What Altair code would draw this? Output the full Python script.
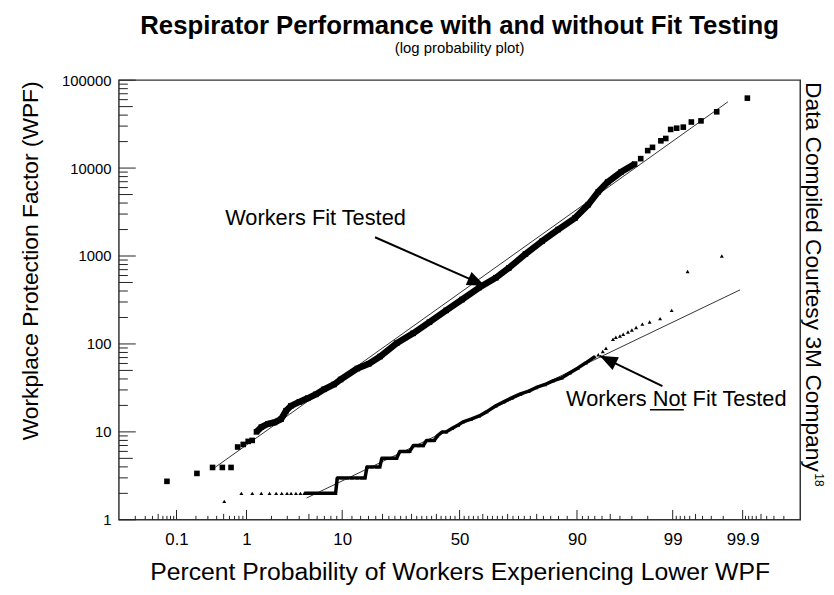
import altair as alt
import pandas as pd
from statistics import NormalDist

FONT = "Liberation Sans"
_nd = NormalDist()


def probit(p):
    return _nd.inv_cdf(p / 100.0)


# ---------------- data ----------------
# Workers fit tested (squares): percent probability, WPF
fit_pct = [0.07, 0.207, 0.35, 0.48, 0.63, 0.77, 0.91, 1.05, 1.18, 1.33,
           1.52, 1.82, 2.17, 2.57, 2.91, 3.29, 4.01, 4.86, 5.82, 6.96,
           8.52, 9.7, 13.2, 16.1, 19.3, 24.6, 30.6, 37.1, 44.2, 51.1,
           58.5, 65.4, 70.5, 76.4, 81.6, 85.9, 89.6, 92.0, 93.5, 94.7,
           96.1, 97.2, 97.6, 98.0, 98.24, 98.6, 98.78, 98.94, 99.11, 99.27,
           99.43, 99.58, 99.75, 99.916]
fit_wpf = [2.74, 3.37, 3.94, 3.94, 3.94, 6.73, 7.2, 7.8, 8.0, 10,
           11.3, 12.3, 12.8, 14.0, 17.4, 19.8, 21.9, 24.1, 26.7, 30.5,
           34.6, 39.4, 52.5, 59.6, 72, 102, 132, 177, 241, 320,
           438, 566, 733, 1053, 1474, 2000, 2700, 3840, 5370, 6930,
           9000, 11100, 12800, 15800, 17200, 20400, 21700, 27500, 28400, 29200,
           33400, 34400, 43600, 62400]

# Workers not fit tested (triangles)
nf_pct = [0.51,
          0.86, 1.18, 1.52, 1.9, 2.26, 2.61, 2.98, 3.29, 3.7, 4.11, 4.5, 4.85, 5.3, 5.82, 6.48, 7.19, 7.96, 8.79,
          9.09, 10, 11, 12, 13.2, 14.3, 15.1,
          15.6, 16.9, 18.3, 19.2,
          19.8, 21.3, 22.9, 24.6,
          25.7, 27.4, 29.3,
          30.7, 32.7, 34.6,
          35.9, 37.5, 39.1,
          40.4, 42.5, 44.2, 46.8, 49.4, 51.5, 55.0,
          58.5, 61.7, 65.4, 68.5, 71.7, 74.7, 77.5, 79.9, 82.5, 84.6, 86.8, 88.6, 90.2, 91.6, 93.0,
          93.5, 94.1, 94.5, 95.3, 95.6, 96.0, 96.3, 96.7, 97.0, 97.3, 97.7, 98.1, 98.57, 98.97, 99.36, 99.79]
nf_wpf = [1.62,
          2, 2, 2, 2, 2, 2, 2, 2, 2, 2, 2, 2, 2, 2, 2, 2, 2, 2,
          3, 3, 3, 3, 3, 3, 3,
          4, 4, 4, 4,
          5, 5, 5, 5,
          6, 6, 6,
          7, 7, 7,
          8, 8, 8,
          9, 10, 10, 11, 12, 13, 14,
          15.2, 17, 19.8, 22, 24.5, 27, 29.1, 32, 34.6, 38, 41.1, 47, 53.4, 61, 71.8,
          75.2, 82, 89.5, 113, 119, 123, 129, 137, 144, 154, 168, 178, 194, 241, 667, 1000]

# fitted lines (end points)
fitline_pct = [0.38, 99.83]
fitline_wpf = [3.95, 56600]
nofitline_pct = [4.74, 99.89]
nofitline_wpf = [1.77, 412]

# axis ticks
x_major = [0.1, 1, 10, 50, 90, 99, 99.9]
x_medium = [0.05, 0.5, 5, 20, 30, 40, 60, 70, 80, 95, 99.5, 99.95]
x_minor = [0.02, 0.03, 0.04, 0.06, 0.07, 0.08, 0.09,
           0.2, 0.3, 0.4, 0.6, 0.7, 0.8, 0.9,
           2, 3, 4, 6, 7, 8, 9,
           12, 14, 16, 18, 22, 24, 26, 28, 32, 34, 36, 38, 42, 44, 46, 48,
           52, 54, 56, 58, 62, 64, 66, 68, 72, 74, 76, 78, 82, 84, 86, 88,
           91, 92, 93, 94, 96, 97, 98,
           99.1, 99.2, 99.3, 99.4, 99.6, 99.7, 99.8,
           99.91, 99.92, 99.93, 99.94, 99.96, 99.97, 99.98]
y_major = [1, 10, 100, 1000, 10000, 100000]
y_medium = [5 * 10 ** k for k in range(5)]
y_minor = [m * 10 ** k for k in range(5) for m in (2, 3, 4, 6, 7, 8, 9)]

# annotations
ann_text = ["Workers Fit Tested", "Workers Not Fit Tested"]
ann_pct = [5.79, 99.1]
ann_wpf = [2673, 23.5]
arrow_pct = [17.8, 98.66]
arrow_wpf = [1634, 33.1]
arrow_tip_pct = [60.9, 93.7]
arrow_tip_wpf = [460, 73.3]
arrow_angle = [23.8, 206.2]
underline_pct = [98.11, 99.28]
underline_wpf = [17.8, 17.8]

title_text = "Respirator Performance with and without Fit Testing"
subtitle_text = "(log probability plot)"
x_title = "Percent Probability of Workers Experiencing Lower WPF"
y_title = "Workplace Protection Factor (WPF)"
side_text = "Data Compiled Courtesy 3M Company"
side_sup = "18"


# ---------------- frames ----------------
def pts(pcts, wpfs):
    return pd.DataFrame({"pct": pcts, "wpf": wpfs, "z": [probit(p) for p in pcts]})


fit_df = pts(fit_pct, fit_wpf)
nf_df = pts(nf_pct, nf_wpf)
fitline_df = pts(fitline_pct, fitline_wpf)
nofitline_df = pts(nofitline_pct, nofitline_wpf)

W, H = 688, 444
xs = alt.Scale(domain=[probit(0.01), probit(99.99)], nice=False, zero=False)
ys = alt.Scale(type="log", domain=[1, 100000], nice=False)

label_expr = " : ".join(
    f"abs(datum.value - ({probit(p):.6f})) < 0.001 ? '{p:g}'" for p in x_major
) + " : ''"

x_axis = alt.Axis(values=[probit(p) for p in x_major], labelExpr=label_expr,
                  ticks=False, domain=False, grid=False, labelOverlap=False,
                  labelFont=FONT, labelFontSize=17, labelColor="black", labelPadding=12,
                  title=x_title, titleFont=FONT, titleFontSize=25, titleFontWeight="normal",
                  titleColor="black", titleX=W / 2, titleY=52, titleAlign="center",
                  titleBaseline="middle")
y_axis = alt.Axis(values=y_major, format="d", ticks=False, domain=False, grid=False,
                  labelOverlap=False, labelFont=FONT, labelFontSize=15, labelColor="black",
                  labelPadding=8, title=y_title, titleFont=FONT, titleFontSize=23,
                  titleFontWeight="normal", titleColor="black", titleX=-89, titleY=182,
                  titleAngle=-90, titleAlign="center", titleBaseline="middle")

X = alt.X("z:Q", scale=xs, axis=x_axis)
Y = alt.Y("wpf:Q", scale=ys, axis=y_axis)
X2 = alt.X2("z2:Q")
Y2 = alt.Y2("wpf2:Q")

layers = []

# fitted lines
for df in (fitline_df, nofitline_df):
    layers.append(alt.Chart(df).mark_line(color="#333333", strokeWidth=1).encode(x=X, y=Y))

# dense bands of overlapping markers
layers.append(alt.Chart(fit_df).transform_filter("datum.pct >= 1.3 && datum.pct <= 97.5")
              .mark_line(color="black", strokeWidth=6.5, strokeJoin="round").encode(x=X, y=Y, order="z:Q"))
layers.append(alt.Chart(nf_df).transform_filter("datum.pct >= 4.5 && datum.pct <= 93.0")
              .mark_line(color="black", strokeWidth=3.5, strokeJoin="round").encode(x=X, y=Y, order="z:Q"))

# points
layers.append(alt.Chart(fit_df).mark_square(color="black", size=32, opacity=1).encode(x=X, y=Y))
layers.append(alt.Chart(nf_df).mark_point(shape="triangle-up", filled=True, color="black",
                                          size=16, opacity=1).encode(x=X, y=Y))

# inward axis ticks
for vals, ln in ((x_major, 10), (x_medium, 6), (x_minor, 4)):
    d = pd.DataFrame({"z": [probit(p) for p in vals]})
    layers.append(alt.Chart(d).mark_rule(color="#222222", strokeWidth=1).encode(
        x=X, y=alt.value(H), y2=alt.value(H - ln)))
for vals, ln in ((y_major, 17), (y_medium, 14), (y_minor, 9)):
    d = pd.DataFrame({"wpf": vals})
    layers.append(alt.Chart(d).mark_rule(color="#222222", strokeWidth=1).encode(
        y=Y, x=alt.value(0), x2=alt.value(ln)))

# annotations
ann_df = pd.DataFrame({"t": ann_text, "wpf": ann_wpf, "z": [probit(p) for p in ann_pct]})
layers.append(alt.Chart(ann_df).mark_text(font=FONT, fontSize=22, color="black", align="center",
                                          baseline="middle").encode(x=X, y=Y, text="t:N"))
ul_df = pd.DataFrame({"z": [probit(underline_pct[0])], "z2": [probit(underline_pct[1])],
                      "wpf": [underline_wpf[0]], "wpf2": [underline_wpf[1]]})
layers.append(alt.Chart(ul_df).mark_rule(color="black", strokeWidth=1.5).encode(x=X, x2=X2, y=Y, y2=Y2))

arr_df = pd.DataFrame({"z": [probit(p) for p in arrow_pct], "wpf": arrow_wpf,
                       "z2": [probit(p) for p in arrow_tip_pct], "wpf2": arrow_tip_wpf})
layers.append(alt.Chart(arr_df).mark_rule(color="black", strokeWidth=2).encode(x=X, x2=X2, y=Y, y2=Y2))
head_df = pd.DataFrame({"z": [probit(p) for p in arrow_tip_pct], "wpf": arrow_tip_wpf,
                        "ang": arrow_angle})
layers.append(alt.Chart(head_df).mark_point(shape="M0,0L-1,-0.4L-1,0.4Z", filled=True,
                                            color="black", opacity=1, size=1296).encode(
    x=X, y=Y, angle=alt.Angle("ang:Q", scale=None)))

# side credit
layers.append(alt.Chart(pd.DataFrame({"t": [side_text]})).mark_text(
    font=FONT, fontSize=23, color="black", angle=90, align="left", baseline="middle").encode(
    text="t:N", x=alt.value(701), y=alt.value(2)))
layers.append(alt.Chart(pd.DataFrame({"t": [side_sup]})).mark_text(
    font=FONT, fontSize=12, color="black", angle=90, align="left", baseline="middle").encode(
    text="t:N", x=alt.value(707), y=alt.value(397)))

chart = alt.layer(*layers).properties(
    width=W, height=H,
    title=alt.TitleParams(text=title_text, subtitle=subtitle_text, font=FONT, fontSize=26,
                          fontWeight="bold", color="black", subtitleFont=FONT,
                          subtitleFontSize=15, subtitleColor="black", anchor="middle",
                          offset=17, subtitlePadding=3),
    autosize=alt.AutoSizeParams(type="none"),
    padding={"left": 112, "top": 70, "right": 26, "bottom": 65},
).configure_view(stroke="#333333", strokeWidth=1.5)

chart.save("out.html", embed_options={"renderer": "svg", "actions": False})
